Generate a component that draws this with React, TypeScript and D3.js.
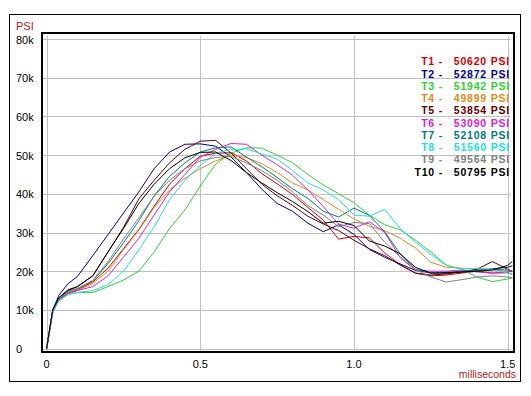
import * as d3 from "d3";

// time axis (milliseconds) shared by every trace
const times = [
  0, 0.02, 0.04, 0.07, 0.1, 0.15, 0.2, 0.25, 0.3, 0.35, 0.4, 0.45, 0.5, 0.55,
  0.6, 0.65, 0.7, 0.75, 0.8, 0.85, 0.9, 0.95, 1.0, 1.05, 1.1, 1.15, 1.2, 1.25,
  1.3, 1.35, 1.4, 1.45, 1.5, 1.515,
];

// pressure in k PSI
const t1 = [0, 9.5, 12.8, 14.3, 15.2, 17.2, 20.8, 25.8, 30.8, 36.8, 42.5, 46.5, 49.7, 50.5, 50.6, 48.5, 45.2, 42.6, 39.8, 36.5, 33.2, 28.3, 29, 28.6, 24.7, 21.7, 19.5, 18.8, 19, 19.5, 20, 19.5, 19.6, 19.2];
const t2 = [0, 10, 13.8, 16.8, 18.6, 24, 29.5, 35, 40.5, 46.5, 50.8, 52.8, 52.9, 52.3, 49.5, 45.5, 41.2, 37.5, 35.5, 32.4, 30.2, 32, 29.5, 25.6, 23.6, 21.9, 20.2, 19.6, 19.5, 19.8, 20.2, 20.6, 21, 21.4];
const t3 = [0, 9.5, 12.5, 14, 14.5, 14.5, 16, 17.7, 20, 25, 31, 35.8, 42, 47.7, 50.5, 51.9, 51.8, 50, 48, 45, 42.3, 40, 37.7, 34.5, 32, 30.7, 28, 25, 21.6, 20.5, 18.5, 17.3, 18, 18.3];
const t4 = [0, 9.5, 12.7, 14.2, 15, 16.8, 20, 25.5, 30.6, 36.5, 41, 44, 46.5, 48.5, 49.9, 49.4, 47.8, 45.5, 42.8, 41, 38.5, 36, 33.5, 31.6, 30.5, 28.5, 26, 22.3, 21, 20.8, 20.5, 20.3, 20, 19.8];
const t5 = [0, 10, 13, 15, 16, 18.8, 25, 31.3, 38.7, 43.5, 48, 51.5, 53.6, 53.8, 50.5, 46.5, 42.5, 39.5, 37, 34.2, 32.2, 30.5, 28, 25.8, 24, 21.6, 19.5, 19, 19.3, 19.8, 20.5, 22.5, 20.5, 20];
const t6 = [0, 9.5, 12.5, 14.3, 15, 16, 18.8, 23.6, 28.5, 34.5, 40.5, 45, 49.5, 51.5, 53, 52.8, 50, 47.5, 44.8, 41, 36.7, 32.2, 31.1, 32.8, 30, 23.5, 20.3, 20, 20, 20.3, 19.8, 19.5, 19.8, 20];
const t7 = [0, 9.8, 13, 14.8, 15.5, 17.5, 22, 27.3, 33, 39.5, 44.5, 48, 50.8, 51.9, 52.1, 49.5, 47, 44.2, 41.3, 38.8, 35.5, 34, 36.3, 34.4, 30.2, 24.5, 20.5, 19.5, 19.7, 20, 20.2, 20.5, 20.3, 20];
const t8 = [0, 9.3, 12.3, 14, 14.5, 15, 16.5, 20, 25.5, 31.5, 38.5, 43.5, 47.3, 50.5, 51.5, 51.6, 50.3, 49, 46, 42.8, 41, 38.5, 34.5, 34.2, 36, 31, 27.5, 24.3, 21.5, 20.5, 20.8, 20.5, 19.5, 19.3];
const t9 = [0, 9.6, 12.8, 14.6, 15.5, 17.6, 22.5, 28.3, 33.8, 39.4, 43.5, 46.5, 48.5, 49.4, 49.6, 48, 46, 43.5, 40.5, 37, 34.5, 31.5, 32.6, 32.3, 27.5, 23.7, 20.5, 18.5, 17.2, 17.8, 18.5, 18.8, 18.5, 18.3];
const t10 = [0, 10, 13.2, 15.2, 16, 18.8, 25, 31, 37.5, 42.5, 46.5, 49.3, 50.7, 50.8, 48.6, 45.5, 42.8, 40.3, 38, 35.4, 32.4, 32.9, 31.8, 27.8, 26.5, 24.5, 21, 19.5, 19.6, 19.8, 20, 20.3, 21.5, 22.5];

const traceNames = ["T1", "T2", "T3", "T4", "T5", "T6", "T7", "T8", "T9", "T10"];
const peaks = [50620, 52872, 51942, 49899, 53854, 53090, 52108, 51560, 49564, 50795];
const colors = [
  "#d00000", "#000090", "#30d030", "#e08a20", "#600000",
  "#d820d8", "#007a7a", "#20e0e0", "#808080", "#000000",
];
const traces = [t1, t2, t3, t4, t5, t6, t7, t8, t9, t10];

const yTicks = [0, 10, 20, 30, 40, 50, 60, 70, 80];
const xTicks = [0, 0.5, 1.0, 1.5];

function App() {
  const width = 531;
  const height = 396;

  const plotLeft = 42;
  const plotRight = 514;
  const plotTop = 33;
  const plotBottom = 352;

  const x = d3.scaleLinear().domain([0, 1.5]).range([46.6, 507.7]);
  const y = d3.scaleLinear().domain([0, 80]).range([348.6, 39]);

  const line = d3
    .line<number>()
    .x((_, i) => x(times[i]))
    .y((d) => y(d));

  const font = "'Liberation Sans', Arial, sans-serif";

  return (
    <svg
      width={width}
      height={height}
      style={{ position: "absolute", left: 0, top: 0, background: "#fff" }}
      fontFamily={font}
    >
      <rect x={9.5} y={14.5} width={511} height={367} fill="#fff" stroke="#000" />

      {/* grid */}
      <g stroke="#c0c0c0" strokeWidth={1}>
        {yTicks.map((t) => (
          <line
            key={t}
            x1={plotLeft}
            x2={x(1.5) + 3}
            y1={Math.round(y(t)) + 0.5}
            y2={Math.round(y(t)) + 0.5}
          />
        ))}
        {xTicks.map((t) => (
          <line
            key={t}
            x1={Math.round(x(t)) + 0.5}
            x2={Math.round(x(t)) + 0.5}
            y1={y(80) - 3}
            y2={plotBottom}
          />
        ))}
      </g>

      {/* traces */}
      <g fill="none" strokeWidth={1}>
        {traces.map((d, i) => (
          <path key={i} d={line(d) ?? ""} stroke={colors[i]} />
        ))}
      </g>

      <rect
        x={plotLeft}
        y={plotTop}
        width={plotRight - plotLeft}
        height={plotBottom - plotTop}
        fill="none"
        stroke="#000"
        strokeWidth={2}
      />

      {/* axis labels */}
      <g fontSize={11} fill="#000">
        {yTicks.map((t) => (
          <text key={t} x={16} y={y(t) + 4.5}>
            {t === 0 ? "0" : `${t}k`}
          </text>
        ))}
        {xTicks.map((t) => (
          <text key={t} x={x(t)} y={367.5} textAnchor="middle">
            {t === 0 ? "0" : t.toFixed(1)}
          </text>
        ))}
      </g>
      <text x={16} y={29.5} fontSize={11} fill="#b02020">
        PSI
      </text>
      <text x={516} y={378} fontSize={10.5} fill="#b02020" textAnchor="end">
        milliseconds
      </text>

      {/* legend */}
      <g fontSize={10.5} fontWeight="bold" letterSpacing={0.8}>
        {traceNames.map((n, i) => (
          <g key={n} fill={colors[i]}>
            <text x={443} y={61.4 + i * 12.25 + 4} textAnchor="end">
              {n} -
            </text>
            <text x={510} y={61.4 + i * 12.25 + 4} textAnchor="end">
              {peaks[i]} PSI
            </text>
          </g>
        ))}
      </g>
    </svg>
  );
}

export default App;
